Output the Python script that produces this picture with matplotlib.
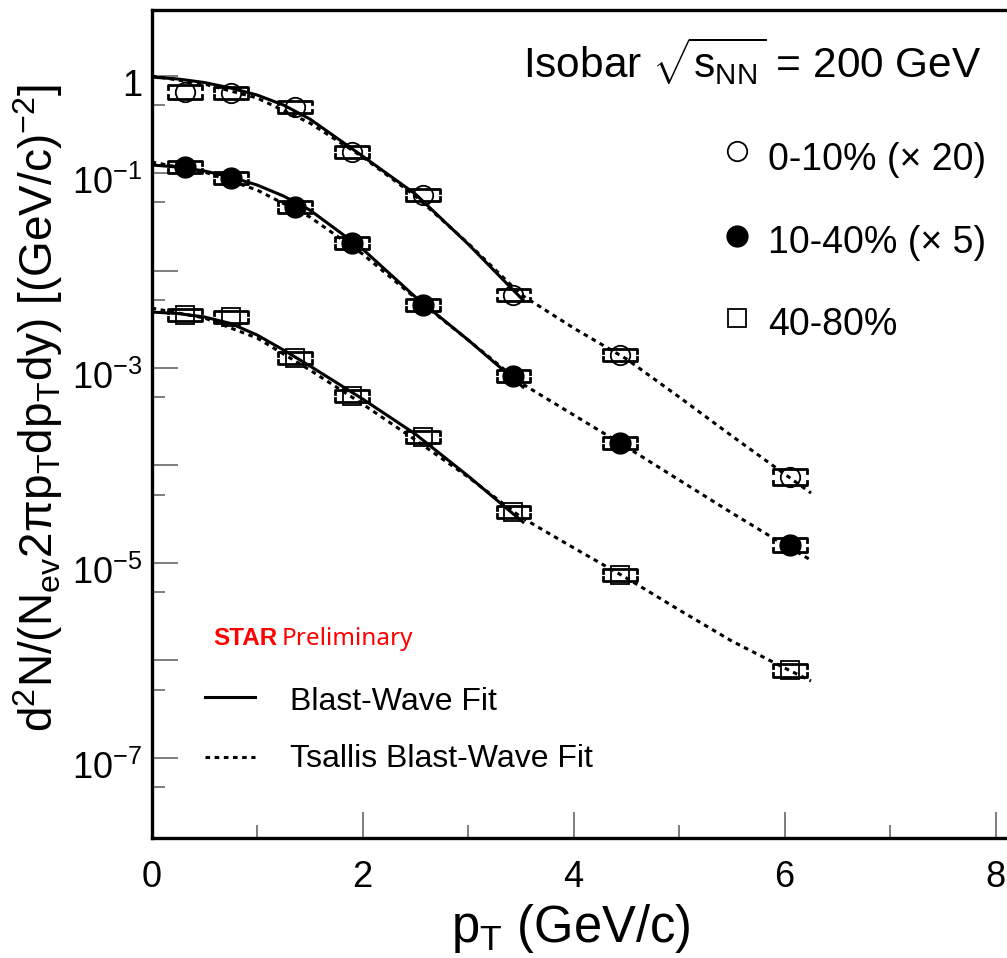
import matplotlib
matplotlib.use('Agg')
import matplotlib.pyplot as plt
import matplotlib.transforms as mtransforms
from matplotlib.lines import Line2D
from matplotlib.ticker import FixedLocator, NullFormatter

plt.rcParams['font.family'] = ['Liberation Sans', 'DejaVu Sans']
plt.rcParams['mathtext.fontset'] = 'custom'
plt.rcParams['mathtext.rm'] = 'Liberation Sans'
plt.rcParams['mathtext.it'] = 'Liberation Sans'
plt.rcParams['mathtext.bf'] = 'Liberation Sans:bold'

# pT bin centres (GeV/c)
pt = [0.32, 0.75, 1.36, 1.90, 2.57, 3.43, 4.44, 6.05]

# spectra (already scaled as in the legend)
y_0_10 = [0.677, 0.661, 0.475, 0.164, 0.0595, 0.00561, 0.00136, 7.6e-5]
y_10_40 = [0.115, 0.0889, 0.0448, 0.0191, 0.00443, 8.28e-4, 1.70e-4, 1.53e-5]
y_40_80 = [0.00350, 0.00334, 0.00127, 5.16e-4, 1.96e-4, 3.33e-5, 7.53e-6, 7.9e-7]

# relative errors
err_0_10 = [0.17, 0.15, 0.16, 0.15, 0.15, 0.16, 0.15, 0.20]
err_10_40 = [0.15, 0.15, 0.15, 0.15, 0.15, 0.15, 0.15, 0.17]
err_40_80 = [0.14, 0.15, 0.15, 0.15, 0.15, 0.15, 0.15, 0.16]

# Blast-Wave fits (solid)
bw_x = [0.0, 0.25, 0.5, 0.75, 1.0, 1.25, 1.5, 2.0, 2.5, 3.0, 3.52]
bw_0_10 = [0.965, 0.921, 0.848, 0.744, 0.631, 0.498, 0.358, 0.149, 0.0609, 0.0187, 0.00498]
bw_10_40 = [0.121, 0.115, 0.105, 0.0910, 0.0753, 0.0581, 0.0417, 0.0166, 0.00535,
            0.00194, 6.38e-4]
bw_40_80 = [0.00375, 0.00362, 0.00334, 0.00286, 0.00218, 0.00153, 0.00105, 4.81e-4,
            2.10e-4, 7.80e-5, 2.63e-5]

# Tsallis Blast-Wave fits (dotted)
tbw_x = [0.0, 0.5, 1.0, 1.5, 2.0, 2.5, 3.0, 3.5, 4.0, 4.5, 5.0, 5.5, 6.0, 6.25]
tbw_0_10 = [0.988, 0.818, 0.588, 0.326, 0.146, 0.0581, 0.0190, 0.00567,
            0.00257, 0.00124, 5.04e-4, 2.01e-4, 8.18e-5, 5.22e-5]
tbw_10_40 = [0.1297, 0.1024, 0.0669, 0.0354, 0.01476, 0.00522, 0.00194, 7.02e-4,
             3.30e-4, 1.55e-4, 7.10e-5, 3.26e-5, 1.53e-5, 1.07e-5]
tbw_40_80 = [0.00412, 0.00326, 0.00203, 9.54e-4, 4.27e-4, 1.83e-4, 7.62e-5, 2.96e-5,
             1.43e-5, 7.02e-6, 3.30e-6, 1.58e-6, 8.38e-7, 6.16e-7]

W, H = 1007, 958
fig = plt.figure(figsize=(W / 100, H / 100), dpi=100)


def P(px, py):
    return px / W, 1 - py / H


ax = fig.add_axes([151.6 / W, 120 / H, (1030 - 151.6) / W, 828 / H])
ax.set_yscale('log')
ax.set_xlim(0, (1030 - 151.6) / 105.5)
ax.set_ylim(1.51e-8, 4.70)

dot = (0, (1.5, 1.5))
for yy in (bw_0_10, bw_10_40, bw_40_80):
    ax.plot(bw_x, yy, color='k', lw=2.2)
for yy in (tbw_0_10, tbw_10_40, tbw_40_80):
    ax.plot(tbw_x, yy, color='k', lw=2.2, ls=dot)

cw = 0.16
hook = 1.09


def draw_points(y, err, **mk):
    for xi, yi, ei in zip(pt, y, err):
        up, lo = yi * (1 + ei), yi / (1 + ei)
        ax.plot([xi - cw, xi - cw, xi + cw, xi + cw], [up / hook, up, up, up / hook],
                color='k', lw=2)
        ax.plot([xi - cw, xi - cw, xi + cw, xi + cw], [lo * hook, lo, lo, lo * hook],
                color='k', lw=2)
    ax.plot(pt, y, ls='none', **mk)


draw_points(y_0_10, err_0_10, marker='o', ms=14, mfc='none', mec='k', mew=1.3)
draw_points(y_10_40, err_10_40, marker='o', ms=15, mfc='k', mec='k')
draw_points(y_40_80, err_40_80, marker='s', ms=13, mfc='none', mec='k', mew=1.3)

# axes styling
for s in ax.spines.values():
    s.set_linewidth(2.4)
ax.set_xticks([0, 2, 4, 6, 8])
ax.set_xticks([1, 3, 5, 7], minor=True)
ax.set_yticks([1e-7, 1e-6, 1e-5, 1e-4, 1e-3, 1e-2, 1e-1, 1])
ax.set_yticklabels([r'$10^{-7}$', '', r'$10^{-5}$', '', r'$10^{-3}$', '', r'$10^{-1}$', '1'])
ax.yaxis.set_minor_locator(FixedLocator([5e-8, 5e-7, 5e-6, 5e-5, 5e-4, 5e-3, 5e-2, 5e-1]))
ax.yaxis.set_minor_formatter(NullFormatter())
ax.tick_params(which='both', direction='in', color='0.45', width=1.3, labelsize=26)
ax.tick_params(which='major', length=19)
ax.tick_params(which='minor', length=9.5)
ax.tick_params(axis='x', pad=16)
ax.tick_params(axis='y', pad=7)
off = mtransforms.ScaledTranslation(0, -7 / 100, fig.dpi_scale_trans)
for lab in ax.get_yticklabels():
    lab.set_transform(lab.get_transform() + off)

# axis titles
fig.text(*P(571, 942), r'p$_{\rm T}$ (GeV/c)', ha='center', va='baseline', fontsize=36.5)
fig.text(*P(38, 408), r'd$^{2}$N/(N$_{\rm ev}$2$\pi$p$_{\rm T}$dp$_{\rm T}$dy) [(GeV/c)$^{-2}$]',
         rotation=90, ha='center', va='center', fontsize=33)

# top-right legend
fig.text(*P(523, 78), r'Isobar $\sqrt{s_{\rm NN}}$ = 200 GeV', fontsize=30.5, va='baseline')
fig.add_artist(Line2D(*zip(P(737, 151)), transform=fig.transFigure, marker='o', ms=14,
                      mfc='none', mec='k', mew=1.3))
fig.add_artist(Line2D(*zip(P(737, 236)), transform=fig.transFigure, marker='o', ms=15,
                      mfc='k', mec='k'))
fig.add_artist(Line2D(*zip(P(737, 318)), transform=fig.transFigure, marker='s', ms=13,
                      mfc='none', mec='k', mew=1.3))
fig.text(*P(768, 170), '0-10% (\u00d7 20)', fontsize=27, va='baseline')
fig.text(*P(768, 253), '10-40% (\u00d7 5)', fontsize=27, va='baseline')
fig.text(*P(768, 335), '40-80%', fontsize=27, va='baseline')

# STAR label
fig.text(*P(213, 645), 'STAR', color='red', fontweight='bold', family='Liberation Sans',
         fontsize=17.5, va='baseline')
fig.text(*P(282, 645), 'Preliminary', color='red', family='Noto Sans',
         fontsize=17.5, va='baseline')

# fit legend
(x0, y0), (x1, _) = P(205, 697), P(255, 697)
fig.add_artist(Line2D([x0, x1], [y0, y0], transform=fig.transFigure, color='k', lw=2.2))
(x0, y0), (x1, _) = P(205, 757), P(255, 757)
fig.add_artist(Line2D([x0, x1], [y0, y0], transform=fig.transFigure, color='k', lw=2.2,
                      ls=dot))
fig.text(*P(290, 710), 'Blast-Wave Fit', fontsize=23, va='baseline')
fig.text(*P(290, 767), 'Tsallis Blast-Wave Fit', fontsize=23, va='baseline')

fig.savefig('out.png', dpi=100)
